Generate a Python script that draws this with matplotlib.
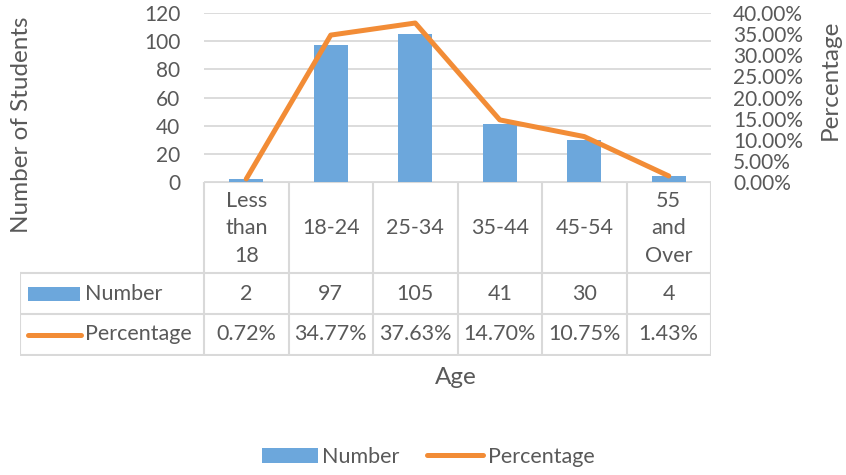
import matplotlib.pyplot as plt
from matplotlib.patches import Rectangle
from matplotlib.lines import Line2D

plt.rcParams["font.family"] = ["Lato", "DejaVu Sans"]

categories = ["Less\nthan\n18", "18-24", "25-34", "35-44", "45-54", "55\nand\nOver"]
numbers = [2, 97, 105, 41, 30, 4]
percentages = [0.72, 34.77, 37.63, 14.70, 10.75, 1.43]
pct_labels = ["0.72%", "34.77%", "37.63%", "14.70%", "10.75%", "1.43%"]

BLUE = "#6ca7dc"
ORANGE = "#f28c36"
TEXT = "#595959"
GRID = "#d9d9d9"
FS = 15.5
FS_TICK = 15
FS_TITLE = 17.5

W, H = 846, 475
fig = plt.figure(figsize=(W / 100, H / 100), dpi=100)


def frect(x0, y0, x1, y1):
    # pixel box (top-left origin) -> figure fraction rect
    return [x0 / W, 1 - y1 / H, (x1 - x0) / W, (y1 - y0) / H]


# main plot area
px_left, px_right, px_top, px_bottom = 204, 711, 13, 182
ax = fig.add_axes(frect(px_left, px_top, px_right, px_bottom))
n = len(categories)
xs = list(range(n))
ax.bar(xs, numbers, width=0.4, color=BLUE, zorder=2)
ax.set_xlim(-0.5, n - 0.5)
ax.set_ylim(0, 120)
ax.set_yticks(range(0, 121, 20))
ax.yaxis.grid(True, color=GRID, linewidth=1.3)
ax.set_axisbelow(True)
ax.set_xticks([])
for s in ax.spines.values():
    s.set_visible(False)
ax.tick_params(axis="y", length=0, labelsize=FS_TICK, labelcolor=TEXT, pad=17)

ax2 = ax.twinx()
ax2.plot(xs, percentages, color=ORANGE, linewidth=3.6, solid_capstyle="round", zorder=3)
ax2.set_ylim(0, 40)
ax2.set_yticks(range(0, 41, 5))
ax2.set_yticklabels([f"{v:.2f}%" for v in range(0, 41, 5)])
for s in ax2.spines.values():
    s.set_visible(False)
ax2.tick_params(axis="y", length=0, labelsize=FS_TICK, labelcolor=TEXT, pad=16)

# data table below the plot
cell_w = (px_right - px_left) / n
tbl_left = 20
left_units = (px_left - tbl_left) / cell_w
tax = fig.add_axes(frect(tbl_left, px_bottom, px_right, 356))
tax.set_xlim(-0.5 - left_units, n - 0.5)
tax.set_ylim(174, 0)
tax.axis("off")
row1, row2, row3 = 91, 132, 173
x_lab0 = -0.5 - left_units
lw = 1.5
tax.plot([-0.5, n - 0.5], [0, 0], color=GRID, lw=lw)
for y in (row1, row2, row3):
    tax.plot([x_lab0, n - 0.5], [y, y], color=GRID, lw=lw)
tax.plot([x_lab0, x_lab0], [row1, row3], color=GRID, lw=lw)
for i in range(n + 1):
    tax.plot([i - 0.5, i - 0.5], [0, row3], color=GRID, lw=lw)

for i, cat in enumerate(categories):
    tax.text(i, row1 / 2 + 1, cat, ha="center", va="center", fontsize=FS,
             color=TEXT, linespacing=1.45)
    tax.text(i, (row1 + row2) / 2, str(numbers[i]), ha="center", va="center",
             fontsize=FS, color=TEXT)
    tax.text(i, (row2 + row3) / 2, pct_labels[i], ha="center", va="center",
             fontsize=FS, color=TEXT)

# legend keys inside the table
ku = 1 / cell_w
tax.add_patch(Rectangle((x_lab0 + 8 * ku, (row1 + row2) / 2 - 7), 52 * ku, 14,
                        color=BLUE, lw=0))
tax.add_line(Line2D([x_lab0 + 8 * ku, x_lab0 + 61 * ku], [(row2 + row3) / 2] * 2,
                    color=ORANGE, lw=3.6, solid_capstyle="round"))
tax.text(x_lab0 + 65 * ku, (row1 + row2) / 2, "Number", ha="left", va="center",
         fontsize=FS, color=TEXT)
tax.text(x_lab0 + 65 * ku, (row2 + row3) / 2, "Percentage", ha="left", va="center",
         fontsize=FS, color=TEXT)

# axis titles
fig.text(22 / W, 1 - 125 / H, "Number of Students", rotation=90, ha="center",
         va="center", fontsize=FS_TITLE, color=TEXT)
fig.text(830 / W, 1 - 80 / H, "Percentage", rotation=90, ha="center",
         va="center", fontsize=FS_TITLE, color=TEXT)
fig.text(456 / W, 1 - 378 / H, "Age", ha="center", va="center", fontsize=FS_TITLE,
         color=TEXT)

# bottom legend
handles = [Rectangle((0, 0), 1, 1, color=BLUE, lw=0),
           Line2D([0], [0], color=ORANGE, lw=3.6, solid_capstyle="round")]
fig.legend(handles, ["Number", "Percentage"], loc="center",
           bbox_to_anchor=(428 / W, 1 - 457 / H), ncol=2, frameon=False,
           fontsize=FS, labelcolor=TEXT, handlelength=2.6, handletextpad=0.2,
           columnspacing=1.3)

fig.savefig("out.png", dpi=100)
